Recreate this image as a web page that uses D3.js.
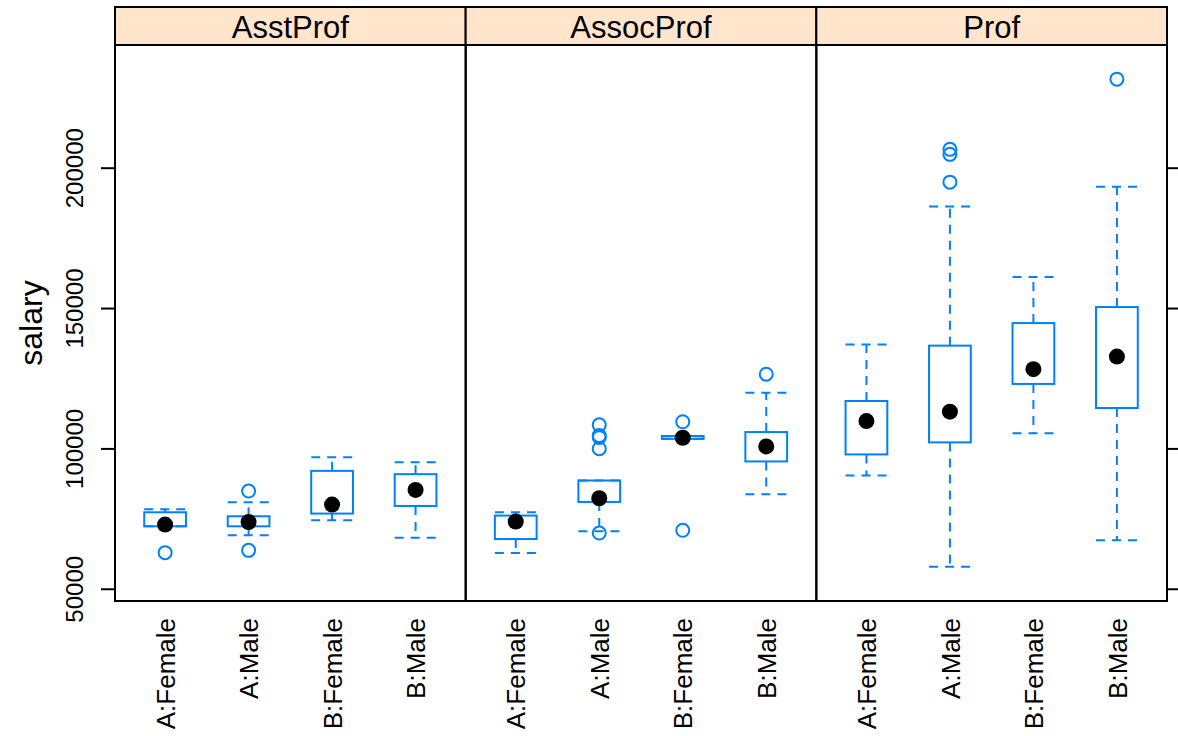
<!DOCTYPE html>
<html>
<head>
<meta charset="utf-8">
<script src="https://cdn.jsdelivr.net/npm/d3@7"></script>
<style>
  body { margin: 0; background: #fff; }
  text { font-family: "Liberation Sans", Arial, sans-serif; }
</style>
</head>
<body>
<div id="chart"></div>
<script>
// data
var ranks = ["AsstProf", "AssocProf", "Prof"];
var groups = ["A:Female", "A:Male", "B:Female", "B:Male"];

// one entry per rank x group (rank-major)
var whiskerLow  = [72250, 69036, 74393, 68214,   62714, 70464, 103400, 83679,   90357, 57800, 105357, 67250];
var boxLow      = [72250, 72250, 76786, 79500,   67714, 80929, 103400, 95357,   97857, 102143, 122964, 114393];
var medians     = [72860, 73786, 80000, 85214,   73929, 82250, 103800, 100714,  109750, 113071, 128214, 132714];
var boxHigh     = [77250, 75821, 92000, 90821,   76071, 88571, 104400, 105821,  116893, 136607, 144643, 150357];
var whiskerHigh = [78321, 80857, 96893, 95036,   77250, 88571, 104400, 119857,  137000, 186143, 161071, 193214];
var outliers    = [[62860], [84821, 63679], [], [],
                   [], [108400, 104600, 103900, 99900, 69857], [109500, 70821], [126429],
                   [], [206536, 204750, 194857], [], [231545]];
var yTicks = [50000, 100000, 150000, 200000];

var W = 1178, H = 736;
var margin = {top: 7, left: 115, right: 11, bottom: 135},
    stripH = 38,
    panelW = (W - margin.left - margin.right) / ranks.length,
    plotTop = margin.top + stripH,
    plotBottom = H - margin.bottom;

var blue = "#0080ff";

var svg = d3.select("#chart").append("svg")
    .attr("width", W)
    .attr("height", H);

var y = d3.scaleLinear()
    .domain([45640, 243710])
    .range([plotBottom, plotTop]);

var x = d3.scaleLinear()
    .domain([0.4, groups.length + 0.6])
    .range([0, panelW]);

var bw = x(1.25) - x(1);

var cells = [];
ranks.forEach(function(r, ri) {
  groups.forEach(function(g, gi) {
    var k = ri * groups.length + gi;
    cells.push({rank: ri, pos: gi + 1, wl: whiskerLow[k], q1: boxLow[k], med: medians[k],
                q3: boxHigh[k], wh: whiskerHigh[k], out: outliers[k]});
  });
});

ranks.forEach(function(r, ri) {
  var p = svg.append("g")
      .attr("transform", "translate(" + (margin.left + ri * panelW) + ",0)");

  // strip
  p.append("rect")
      .attr("x", 0).attr("y", margin.top)
      .attr("width", panelW).attr("height", stripH)
      .attr("fill", "#ffe5cc")
      .attr("stroke", "black").attr("stroke-width", 2);
  p.append("text")
      .attr("x", panelW / 2).attr("y", margin.top + stripH - 7)
      .attr("text-anchor", "middle")
      .attr("font-size", 31)
      .text(r);

  // panel border
  p.append("rect")
      .attr("x", 0).attr("y", plotTop)
      .attr("width", panelW).attr("height", plotBottom - plotTop)
      .attr("fill", "none")
      .attr("stroke", "black").attr("stroke-width", 2);

  // x labels
  var ax = p.append("g")
      .attr("transform", "translate(0," + plotBottom + ")")
      .call(d3.axisBottom(x).tickValues([1, 2, 3, 4]).tickSize(0)
              .tickFormat(function(d) { return groups[d - 1]; }));
  ax.select(".domain").remove();
  ax.selectAll("text")
      .attr("x", 0).attr("y", 0).attr("dy", "0.35em")
      .attr("transform", "translate(0,17) rotate(-90)")
      .attr("text-anchor", "end")
      .attr("font-size", 26)
      .attr("font-family", "Liberation Sans, Arial, sans-serif")
      .attr("fill", "black");

  var d = cells.filter(function(c) { return c.rank === ri; });
  var b = p.append("g").selectAll("g").data(d).enter().append("g");

  // whiskers
  b.append("line")
      .attr("x1", function(c) { return x(c.pos); }).attr("x2", function(c) { return x(c.pos); })
      .attr("y1", function(c) { return y(c.q3); }).attr("y2", function(c) { return y(c.wh); })
      .attr("stroke", blue).attr("stroke-width", 2).attr("stroke-dasharray", "9,7");
  b.append("line")
      .attr("x1", function(c) { return x(c.pos); }).attr("x2", function(c) { return x(c.pos); })
      .attr("y1", function(c) { return y(c.q1); }).attr("y2", function(c) { return y(c.wl); })
      .attr("stroke", blue).attr("stroke-width", 2).attr("stroke-dasharray", "9,7");
  ["wh", "wl"].forEach(function(key) {
    b.append("line")
        .attr("x1", function(c) { return x(c.pos) - bw; }).attr("x2", function(c) { return x(c.pos) + bw; })
        .attr("y1", function(c) { return y(c[key]); }).attr("y2", function(c) { return y(c[key]); })
        .attr("stroke", blue).attr("stroke-width", 2).attr("stroke-dasharray", "9,7");
  });

  // box
  b.append("rect")
      .attr("x", function(c) { return x(c.pos) - bw; })
      .attr("y", function(c) { return y(c.q3); })
      .attr("width", 2 * bw)
      .attr("height", function(c) { return y(c.q1) - y(c.q3); })
      .attr("fill", "none")
      .attr("stroke", blue).attr("stroke-width", 2);

  // outliers
  b.selectAll("circle.out")
      .data(function(c) { return c.out.map(function(v) { return {pos: c.pos, v: v}; }); })
      .enter().append("circle")
      .attr("class", "out")
      .attr("cx", function(o) { return x(o.pos); })
      .attr("cy", function(o) { return y(o.v); })
      .attr("r", 6.5)
      .attr("fill", "none")
      .attr("stroke", blue).attr("stroke-width", 2);

  // median dot
  b.append("circle")
      .attr("cx", function(c) { return x(c.pos); })
      .attr("cy", function(c) { return y(c.med); })
      .attr("r", 8)
      .attr("fill", "black");
});

// y axes
var ay = svg.append("g")
    .attr("transform", "translate(" + margin.left + ",0)")
    .call(d3.axisLeft(y).tickValues(yTicks).tickSize(14).tickFormat(d3.format("d")));
ay.select(".domain").remove();
ay.selectAll("line").attr("stroke", "black").attr("stroke-width", 2);
ay.selectAll("text")
    .attr("x", 0).attr("y", 0).attr("dy", 0)
    .attr("transform", "translate(-32,0) rotate(-90)")
    .attr("text-anchor", "middle")
    .attr("font-size", 24)
    .attr("font-family", "Liberation Sans, Arial, sans-serif")
    .attr("fill", "black");

var ayr = svg.append("g")
    .attr("transform", "translate(" + (W - margin.right) + ",0)")
    .call(d3.axisRight(y).tickValues(yTicks).tickSize(14).tickFormat(""));
ayr.select(".domain").remove();
ayr.selectAll("line").attr("stroke", "black").attr("stroke-width", 2);

svg.append("text")
    .attr("transform", "translate(42," + ((plotTop + plotBottom) / 2) + ") rotate(-90)")
    .attr("text-anchor", "middle")
    .attr("font-size", 32)
    .text("salary");
</script>
</body>
</html>
